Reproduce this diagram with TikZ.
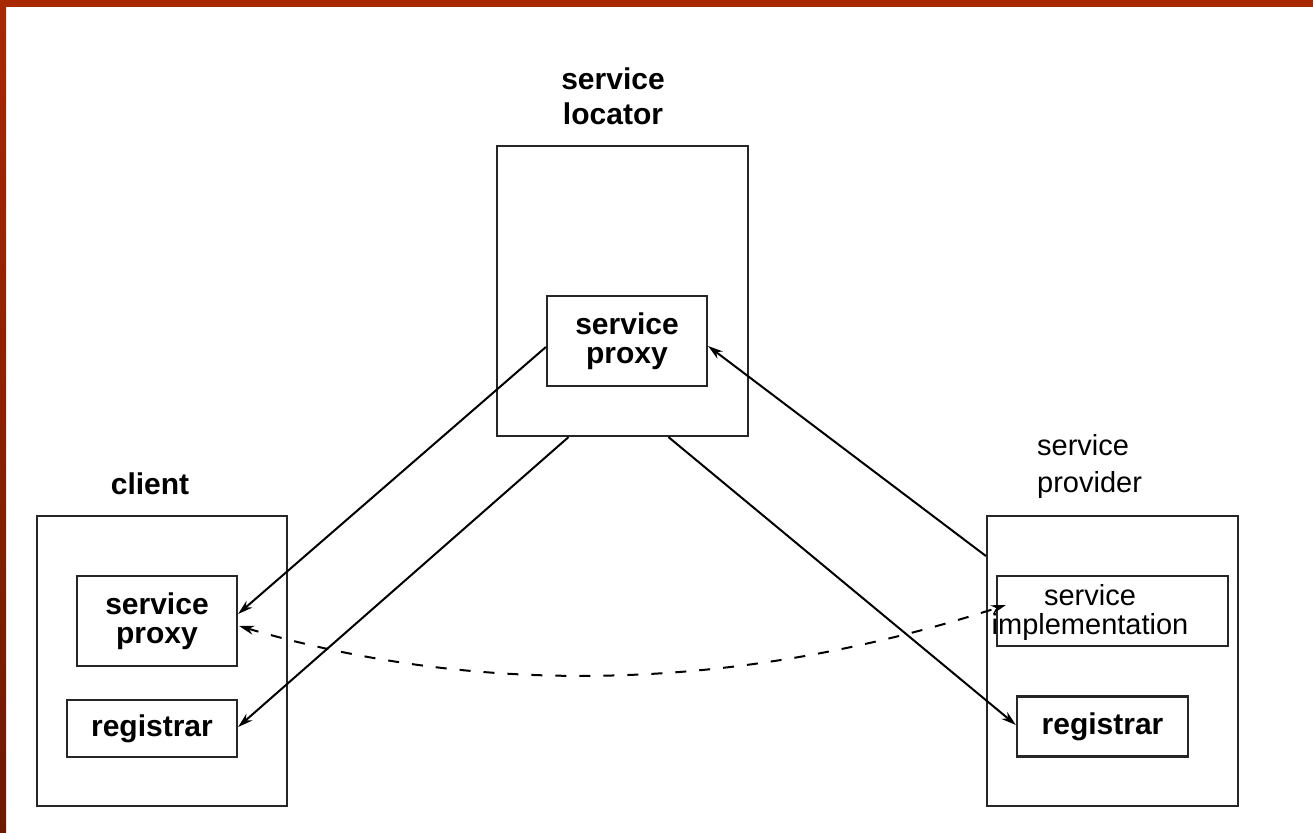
\documentclass[tikz,border=0pt]{standalone}
\usepackage{fontspec}
\setmainfont{Liberation Sans}
\usetikzlibrary{arrows.meta,calc}
\definecolor{frame}{HTML}{A82800}
\definecolor{framedark}{HTML}{6E1A02}
\begin{document}
\begin{tikzpicture}[x=1pt,y=-1pt,
  box/.style={draw=black!85,line width=2.2pt,rectangle,inner sep=0pt},
  boldtxt/.style={font=\fontsize{30}{29}\selectfont\bfseries,align=center,inner sep=0pt},
  plaintxt/.style={font=\fontsize{29}{29}\selectfont,inner sep=0pt},
  link/.style={line width=2pt,-{Stealth[length=15pt,width=9pt]}},
  dashlink/.style={line width=2pt,dash pattern=on 11pt off 13pt,
    {Stealth[length=15pt,width=9pt]}-{Stealth[length=15pt,width=9pt]}}]
  % page and frame bars
  \useasboundingbox (0,0) rectangle (1313,832);
  \fill[white] (0,0) rectangle (1313,832);
  \fill[frame] (0,0) rectangle (1313,7);
  \shade[top color=frame,bottom color=framedark] (0,0) rectangle (6,832);

  % service locator
  \node[box,minimum width=251pt,minimum height=290pt] (locOuter) at (622.5,291) {};
  \node[box,minimum width=160pt,minimum height=90pt,boldtxt] (locProxy) at (627,341) {service\\proxy};
  \node[boldtxt,font=\fontsize{30}{35}\selectfont\bfseries] (locLabel) at (613,96) {service\\locator};

  % client
  \node[box,minimum width=250pt,minimum height=290pt] (cliOuter) at (162,661) {};
  \node[box,minimum width=160pt,minimum height=90pt,boldtxt] (cliProxy) at (157,621) {service\\proxy};
  \node[box,minimum width=170pt,minimum height=57pt,boldtxt] (cliReg) at (152,728.5) {registrar};
  \node[boldtxt] (cliLabel) at (150,484) {client};

  % service provider
  \node[box,minimum width=251pt,minimum height=290pt] (provOuter) at (1112.5,661) {};
  \node[box,minimum width=231pt,minimum height=70pt] (impl) at (1112.5,611) {};
  \node[plaintxt,align=center] (implText) at (1090,612) {service\\implementation};
  \node[box,minimum width=171pt,minimum height=60pt,boldtxt] (provReg) at (1102.5,726.5) {registrar};
  \node[plaintxt,font=\fontsize{29}{37}\selectfont,align=left,anchor=west] (provLabel) at (1037,466) {service\\provider};

  % lookups and registrations
  \draw[link] ([yshift=-6pt]locProxy.west) -- ([yshift=7pt]cliProxy.east);
  \draw[link] ([xshift=-54pt]locOuter.south) -- ([yshift=1.5pt]cliReg.east);
  \draw[link] ([xshift=46pt]locOuter.south) -- ([yshift=1.5pt]provReg.west);
  \draw[link] ([yshift=105pt]provOuter.west) -- ([yshift=-5pt]locProxy.east);

  % direct call between proxy and implementation
  \draw[dashlink] ([xshift=1pt,yshift=-5pt]cliProxy.east)
    .. controls (484,698) and (741,691) .. ([xshift=10pt,yshift=6pt]impl.west);
\end{tikzpicture}
\end{document}
